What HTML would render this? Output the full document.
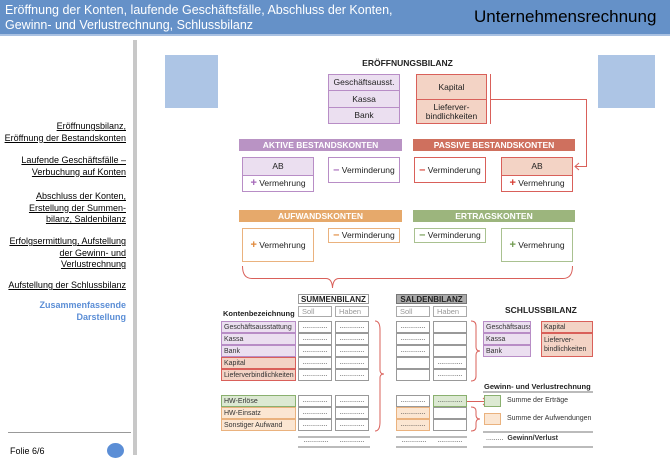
<!DOCTYPE html>
<html><head><meta charset="utf-8"><style>
*{margin:0;padding:0;box-sizing:border-box}
body{width:670px;height:465px;position:relative;background:#fff;font-family:"Liberation Sans",sans-serif;overflow:hidden}
.a{position:absolute}
.hdr{left:0;top:0;width:670px;height:36px;background:#6591c8;border-bottom:2px solid #a9c1e2}
.nav{right:544px;text-align:right;font-size:9px;line-height:11.5px;color:#000;text-decoration:underline;white-space:nowrap}
.bx{position:absolute;font-size:8.5px;color:#222;display:flex;align-items:center;justify-content:center;text-align:center;line-height:9px}
.bx span{font-weight:bold;font-size:11px}
.pu{background:#ebdff0;border:1px solid #b88dc6}
.pk{background:#f3d3c5;border:1px solid #d9605a}
.wp{background:#fff;border:1px solid #b88dc6}
.wr{background:#fff;border:1px solid #d9605a}
.wo{background:#fff;border:1px solid #eab27e}
.wg{background:#fff;border:1px solid #a9c190}
.bar{position:absolute;height:12px;color:#fff;font-size:8.5px;font-weight:bold;display:flex;align-items:center;justify-content:center}
.c{position:absolute;font-size:7px;color:#333;display:flex;align-items:center;padding-left:2px;height:12px;white-space:nowrap;overflow:hidden}
.d{position:absolute;height:12px;width:34px;border:1px solid #999;font-size:7px;color:#333;text-align:center;line-height:9px;background:#fff}
.h{position:absolute;height:11px;width:34px;border:1px solid #aaa;font-size:7.5px;color:#999;padding-left:3px;line-height:9px}
.g{background:#dce9d2;border-color:#8ab06f}
.o{background:#fbe6d2;border-color:#eab27e}
</style></head><body>
<div class="a hdr"></div>
<div class="a" style="left:5px;top:3px;font-size:12.5px;line-height:15px;color:#fff">Eröffnung der Konten, laufende Geschäftsfälle, Abschluss der Konten,<br>Gewinn- und Verlustrechnung, Schlussbilanz</div>
<div class="a" style="left:474px;top:7px;font-size:17px;color:#000">Unternehmensrechnung</div>

<div class="a" style="left:133px;top:40px;width:4px;height:415px;background:#c8c8c8"></div>
<div class="a nav" style="top:121px">Eröffnungsbilanz,<br>Eröffnung der Bestandskonten</div>
<div class="a nav" style="top:155px">Laufende Geschäftsfälle –<br>Verbuchung auf Konten</div>
<div class="a nav" style="top:191px">Abschluss der Konten,<br>Erstellung der Summen-<br>bilanz, Saldenbilanz</div>
<div class="a nav" style="top:236px">Erfolgsermittlung, Aufstellung<br>der Gewinn- und<br>Verlustrechnung</div>
<div class="a nav" style="top:280px">Aufstellung der Schlussbilanz</div>
<div class="a nav" style="top:300px;color:#5b8ed6;font-weight:bold;text-decoration:none">Zusammenfassende<br>Darstellung</div>
<div class="a" style="left:8px;top:432px;width:123px;height:1px;background:#999"></div>
<div class="a" style="left:10px;top:446px;font-size:9px">Folie 6/6</div>
<div class="a" style="left:107px;top:443px;width:17px;height:15px;border-radius:50%;background:#5b8ed6"></div>

<div class="a" style="left:165px;top:55px;width:53px;height:53px;background:#adc5e5"></div>
<div class="a" style="left:598px;top:55px;width:57px;height:53px;background:#adc5e5"></div>

<div class="a" style="left:360px;top:58px;width:95px;text-align:center;font-size:8.5px;font-weight:bold;color:#222">ERÖFFNUNGSBILANZ</div>
<div class="bx pu" style="left:328px;top:74px;width:72px;height:17px">Geschäftsausst.</div>
<div class="bx pu" style="left:328px;top:90px;width:72px;height:18px">Kassa</div>
<div class="bx pu" style="left:328px;top:107px;width:72px;height:17px">Bank</div>
<div class="bx pk" style="left:416px;top:74px;width:71px;height:26px">Kapital</div>
<div class="bx pk" style="left:416px;top:99px;width:71px;height:25px">Lieferver-<br>bindlichkeiten</div>

<svg class="a" style="left:0;top:0" width="670" height="465">
<g fill="none" stroke="#d9605a" stroke-width="1">
<line x1="490.5" y1="74" x2="490.5" y2="124"/>
<polyline points="490,99.5 586.5,99.5 586.5,166.5 575,166.5"/>
<polyline points="579,163 575,166.5 579,170"/>
<path d="M242.5,266 Q242.5,278.5 252,278.5 L326,278.5 Q332,278.5 332.5,288 Q333,278.5 339,278.5 L563,278.5 Q572.5,278.5 572.5,266"/>
<path d="M375,321 Q380,321 380,330 L380,370 Q380,374 384,374 Q380,374 380,378 L380,422 Q380,431 375,431"/>
<path d="M471,321 Q476,321 476,326 L476,347 Q476,351 480,351 Q476,351 476,355 L476,376 Q476,381 471,381"/>
<path d="M471,407 Q476,407 476,411 L476,415 Q476,419 480,419 Q476,419 476,423 L476,427 Q476,431 471,431"/>
<line x1="467" y1="401.5" x2="487" y2="401.5"/>
<polyline points="483,398 487,401.5 483,405"/>
</g>
<g stroke="#bbb" stroke-width="2">
<line x1="298" y1="437" x2="370" y2="437"/><line x1="298" y1="447" x2="370" y2="447"/>
<line x1="396" y1="437" x2="467" y2="437"/><line x1="396" y1="447" x2="467" y2="447"/>
<line x1="483" y1="392" x2="593" y2="392"/><line x1="483" y1="432" x2="593" y2="432"/><line x1="483" y1="447" x2="593" y2="447"/>
</g>
</svg>

<div class="bar" style="left:239px;top:139px;width:163px;background:#b993c4">AKTIVE BESTANDSKONTEN</div>
<div class="bar" style="left:413px;top:139px;width:162px;background:#cf705e">PASSIVE BESTANDSKONTEN</div>
<div class="bar" style="left:239px;top:210px;width:163px;background:#e6a96b">AUFWANDSKONTEN</div>
<div class="bar" style="left:413px;top:210px;width:162px;background:#9cb57d">ERTRAGSKONTEN</div>

<div class="bx pu" style="left:242px;top:157px;width:72px;height:19px">AB</div>
<div class="bx wp" style="left:242px;top:175px;width:72px;height:17px"><span style="color:#a467b8">+</span>&nbsp;Vermehrung</div>
<div class="bx wp" style="left:328px;top:157px;width:72px;height:26px"><span style="color:#a467b8">–</span>&nbsp;Verminderung</div>
<div class="bx wr" style="left:414px;top:157px;width:72px;height:26px"><span style="color:#d63c32">–</span>&nbsp;Verminderung</div>
<div class="bx pk" style="left:501px;top:157px;width:72px;height:19px">AB</div>
<div class="bx wr" style="left:501px;top:175px;width:72px;height:17px"><span style="color:#d63c32">+</span>&nbsp;Vermehrung</div>

<div class="bx wo" style="left:242px;top:228px;width:72px;height:34px"><span style="color:#e0883a">+</span>&nbsp;Vermehrung</div>
<div class="bx wo" style="left:328px;top:228px;width:72px;height:15px"><span style="color:#e0883a">–</span>&nbsp;Verminderung</div>
<div class="bx wg" style="left:414px;top:228px;width:72px;height:15px"><span style="color:#6f9a4e">–</span>&nbsp;Verminderung</div>
<div class="bx wg" style="left:501px;top:228px;width:72px;height:34px"><span style="color:#6f9a4e">+</span>&nbsp;Vermehrung</div>

<div class="bx" style="left:298px;top:294px;width:71px;height:10px;border:1px solid #999;font-weight:bold;font-size:8px">SUMMENBILANZ</div>
<div class="bx" style="left:396px;top:294px;width:71px;height:10px;border:1px solid #777;background:#aaa;font-weight:bold;font-size:8px">SALDENBILANZ</div>
<div class="a" style="left:223px;top:309px;font-size:7.5px;font-weight:bold;color:#222">Kontenbezeichnung</div>
<div class="h" style="left:298px;top:306px">Soll</div><div class="h" style="left:335px;top:306px">Haben</div>
<div class="h" style="left:396px;top:306px">Soll</div><div class="h" style="left:433px;top:306px">Haben</div>

<div class="c pu" style="left:221px;top:321px;width:75px">Geschäftsausstattung</div>
<div class="c pu" style="left:221px;top:333px;width:75px">Kassa</div>
<div class="c pu" style="left:221px;top:345px;width:75px">Bank</div>
<div class="c pk" style="left:221px;top:357px;width:75px">Kapital</div>
<div class="c pk" style="left:221px;top:369px;width:75px">Lieferverbindlichkeiten</div>
<div class="c g" style="left:221px;top:395px;width:75px;border:1px solid #8ab06f">HW-Erlöse</div>
<div class="c o" style="left:221px;top:407px;width:75px;border:1px solid #eab27e">HW-Einsatz</div>
<div class="c o" style="left:221px;top:419px;width:75px;border:1px solid #eab27e">Sonstiger Aufwand</div>

<div class="d" style="left:298px;top:321px">.............</div><div class="d" style="left:335px;top:321px">.............</div>
<div class="d" style="left:298px;top:333px">.............</div><div class="d" style="left:335px;top:333px">.............</div>
<div class="d" style="left:298px;top:345px">.............</div><div class="d" style="left:335px;top:345px">.............</div>
<div class="d" style="left:298px;top:357px">.............</div><div class="d" style="left:335px;top:357px">.............</div>
<div class="d" style="left:298px;top:369px">.............</div><div class="d" style="left:335px;top:369px">.............</div>
<div class="d" style="left:298px;top:395px">.............</div><div class="d" style="left:335px;top:395px">.............</div>
<div class="d" style="left:298px;top:407px">.............</div><div class="d" style="left:335px;top:407px">.............</div>
<div class="d" style="left:298px;top:419px">.............</div><div class="d" style="left:335px;top:419px">.............</div>
<div class="a" style="left:298px;top:437px;width:72px;font-size:7px;color:#333;display:flex;justify-content:space-around">.............<span>.............</span></div>

<div class="d pu" style="left:396px;top:321px">.............</div><div class="d" style="left:433px;top:321px"></div>
<div class="d pu" style="left:396px;top:333px">.............</div><div class="d" style="left:433px;top:333px"></div>
<div class="d pu" style="left:396px;top:345px">.............</div><div class="d" style="left:433px;top:345px"></div>
<div class="d" style="left:396px;top:357px"></div><div class="d pk" style="left:433px;top:357px">.............</div>
<div class="d" style="left:396px;top:369px"></div><div class="d pk" style="left:433px;top:369px">.............</div>
<div class="d" style="left:396px;top:395px">.............</div><div class="d g" style="left:433px;top:395px">.............</div>
<div class="d o" style="left:396px;top:407px">.............</div><div class="d" style="left:433px;top:407px"></div>
<div class="d o" style="left:396px;top:419px">.............</div><div class="d" style="left:433px;top:419px"></div>
<div class="a" style="left:396px;top:437px;width:72px;font-size:7px;color:#333;display:flex;justify-content:space-around">.............<span>.............</span></div>

<div class="a" style="left:505px;top:305px;font-size:8.5px;font-weight:bold;color:#222">SCHLUSSBILANZ</div>
<div class="c pu" style="left:483px;top:321px;width:48px">Geschäftsausst.</div>
<div class="c pu" style="left:483px;top:333px;width:48px">Kassa</div>
<div class="c pu" style="left:483px;top:345px;width:48px">Bank</div>
<div class="c pk" style="left:541px;top:321px;width:52px">Kapital</div>
<div class="c pk" style="left:541px;top:333px;width:52px;height:24px;line-height:9px;white-space:normal">Lieferver-<br>bindlichkeiten</div>

<div class="a" style="left:484px;top:382px;font-size:7.5px;font-weight:bold;color:#222">Gewinn- und Verlustrechnung</div>
<div class="a g" style="left:484px;top:395px;width:17px;height:12px;border:1px solid #8ab06f"></div>
<div class="a" style="left:507px;top:397px;font-size:7px;color:#333">Summe der Erträge</div>
<div class="a o" style="left:484px;top:413px;width:17px;height:12px;border:1px solid #eab27e"></div>
<div class="a" style="left:507px;top:415px;font-size:7px;color:#333">Summe der Aufwendungen</div>
<div class="a" style="left:486px;top:435px;font-size:7px;color:#333">.........&nbsp;&nbsp;<b>Gewinn/Verlust</b></div>
</body></html>
